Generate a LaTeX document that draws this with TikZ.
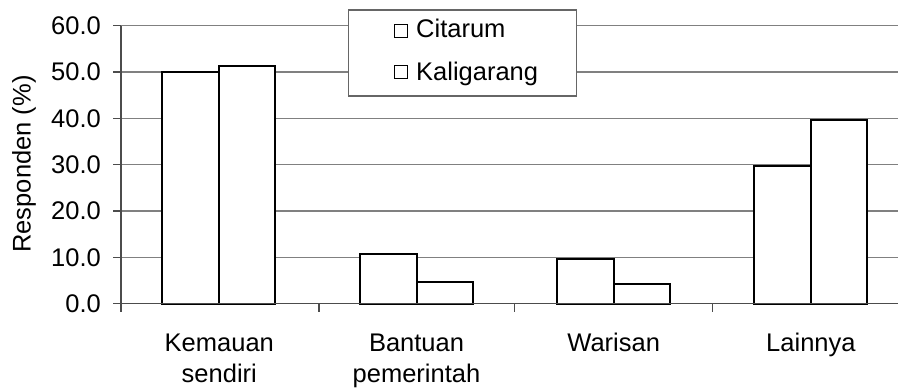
\documentclass[tikz,border=0pt]{standalone}
\usepackage{fontspec}
\setmainfont{Liberation Sans}
\begin{document}
\begin{tikzpicture}[x=1pt,y=-1pt,
  grid/.style={draw=black!50,line width=1.3pt},
  axis/.style={draw=black!70,line width=1.3pt},
  bar/.style={draw=black,fill=white,line width=2pt},
  lbl/.style={font=\fontsize{25.5}{31}\selectfont,inner sep=0pt},
  legsq/.style={draw=black,fill=white,line width=1.3pt,minimum size=13pt,inner sep=0pt}]
\useasboundingbox (0,0) rectangle (898,389);
\def\yz{303.7}
\def\ys{4.633}
% gridlines and y ticks
\foreach \v in {10,20,30,40,50,60}{
  \draw[grid] (121,{\yz-\v*\ys}) -- (898,{\yz-\v*\ys});
}
\foreach \v/\t in {0/0.0,10/10.0,20/20.0,30/30.0,40/40.0,50/50.0,60/60.0}{
  \draw[axis] (113,{\yz-\v*\ys}) -- (121,{\yz-\v*\ys});
  \node[lbl,anchor=east] (yl\v) at (101,{\yz-\v*\ys}) {\t};
}
% legend
\draw[draw=black!60,fill=white,line width=1.3pt] (348.3,10) rectangle (576.7,96);
\node[legsq] (sq1) at (401,30.7) {};
\node[legsq] (sq2) at (401,72.3) {};
\node[lbl,anchor=base west] (leg1) at (416,37) {Citarum};
\node[lbl,anchor=base west] (leg2) at (416,80) {Kaligarang};
% bars
\foreach \c/\a/\b in {219.3/50.0/51.3, 416.5/10.7/4.7, 613.7/9.6/4.3, 810.9/29.8/39.7}{
  \draw[bar] (\c-57,\yz) rectangle (\c,{\yz-\a*\ys});
  \draw[bar] (\c,\yz) rectangle (\c+56,{\yz-\b*\ys});
}
% axes
\draw[axis] (121,{\yz-60*\ys}) -- (121,311.5);
\draw[axis] (113,\yz) -- (898,\yz);
\foreach \x in {319,514.3,712.3}{
  \draw[axis] (\x,\yz) -- (\x,311.5);
}
% x labels
\node[lbl,anchor=north,align=center] (c1) at (219.3,333.3) {Kemauan\\sendiri};
\node[lbl,anchor=north,align=center] (c2) at (416.5,333.3) {Bantuan\\pemerintah};
\node[lbl,anchor=north,align=center] (c3) at (613.7,333.3) {Warisan};
\node[lbl,anchor=north,align=center] (c4) at (810.9,333.3) {Lainnya};
% y label
\node[lbl,rotate=90] (ylab) at (24,164) {Responden (\%)};
\end{tikzpicture}
\end{document}
